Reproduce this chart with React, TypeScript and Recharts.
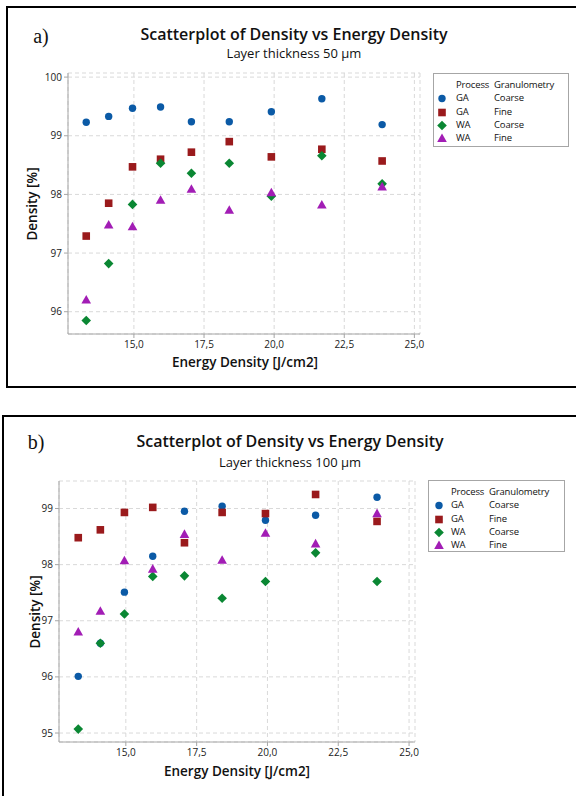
import React from "react";
import { ScatterChart, Scatter, XAxis, YAxis, CartesianGrid } from "recharts";

// a) layer thickness 50 µm
const energyA = [13.3, 14.1, 14.95, 15.95, 17.05, 18.4, 19.9, 21.7, 23.85];
const gaCoarseA = [99.23, 99.33, 99.47, 99.49, 99.24, 99.24, 99.41, 99.63, 99.19];
const gaFineA = [97.29, 97.85, 98.47, 98.6, 98.72, 98.9, 98.64, 98.77, 98.57];
const waCoarseA = [95.85, 96.82, 97.83, 98.53, 98.36, 98.53, 97.97, 98.66, 98.18];
const waFineA = [96.2, 97.48, 97.45, 97.9, 98.09, 97.73, 98.03, 97.82, 98.13];

// b) layer thickness 100 µm
const energyB = [13.32, 14.1, 14.95, 15.95, 17.07, 18.4, 19.93, 21.7, 23.87];
const gaCoarseB = [96.01, 96.6, 97.51, 98.15, 98.95, 99.04, 98.79, 98.88, 99.2];
const gaFineB = [98.48, 98.62, 98.93, 99.02, 98.39, 98.93, 98.91, 99.25, 98.77];
const waCoarseB = [95.07, 96.6, 97.12, 97.79, 97.8, 97.4, 97.7, 98.21, 97.7];
const waFineB = [96.8, 97.17, 98.07, 97.92, 98.54, 98.08, 98.56, 98.37, 98.91];

const xTicks = [15, 17.5, 20, 22.5, 25];
const yTicksA = [96, 97, 98, 99, 100];
const yTicksB = [95, 96, 97, 98, 99];

const processes = ["GA", "GA", "WA", "WA"];
const granulometry = ["Coarse", "Fine", "Coarse", "Fine"];
const colors = ["#0b5aa6", "#9a1a1c", "#0a8733", "#a21db5"];
const kinds = ["circle", "square", "diamond", "triangle"];

const FONT = "'Open Sans', 'Noto Sans', sans-serif";
const FRAME = "#a6a6a6";
const GRID = "#d9d9d9";

function Marker(props: any) {
  const { cx, cy, kind, color } = props;
  if (cx == null || cy == null) return null;
  if (kind === "circle") return <circle cx={cx} cy={cy} r={3.7} fill={color} />;
  if (kind === "square")
    return <rect x={cx - 3.8} y={cy - 3.8} width={7.6} height={7.6} fill={color} />;
  if (kind === "diamond")
    return (
      <polygon
        points={`${cx},${cy - 4.8} ${cx + 4.8},${cy} ${cx},${cy + 4.8} ${cx - 4.8},${cy}`}
        fill={color}
      />
    );
  return (
    <polygon
      points={`${cx},${cy - 5} ${cx + 4.8},${cy + 3.6} ${cx - 4.8},${cy + 3.6}`}
      fill={color}
    />
  );
}

function Text(props: any) {
  const { x, y, size = 12, weight = 400, family = FONT, rotate = 0, children } = props;
  return (
    <div
      style={{
        position: "absolute",
        left: x,
        top: y,
        transform: `translate(-50%, -50%) rotate(${rotate}deg)`,
        fontSize: size,
        fontWeight: weight,
        fontFamily: family,
        whiteSpace: "nowrap",
        lineHeight: 1,
        color: "#111",
      }}
    >
      {children}
    </div>
  );
}

function Legend(props: any) {
  const { left, top, width, height, rows, symX, col1, col2 } = props;
  const cell = (x: number, y: number, txt: string) => (
    <div
      style={{
        position: "absolute",
        left: x - left,
        top: y - top - 6,
        fontSize: 9.5,
        letterSpacing: -0.15,
        lineHeight: "12px",
        whiteSpace: "nowrap",
        color: "#111",
      }}
    >
      {txt}
    </div>
  );
  return (
    <div
      style={{
        position: "absolute",
        left,
        top,
        width,
        height,
        border: `1px solid ${FRAME}`,
        boxSizing: "border-box",
        fontFamily: FONT,
      }}
    >
      {cell(col1, rows[0], "Process")}
      {cell(col2, rows[0], "Granulometry")}
      {processes.map((p, i) => (
        <React.Fragment key={i}>
          <svg
            style={{ position: "absolute", left: symX - left - 6, top: rows[i + 1] - top - 6 }}
            width={12}
            height={12}
          >
            <Marker cx={6} cy={6.5} kind={kinds[i]} color={colors[i]} />
          </svg>
          {cell(col1, rows[i + 1], p)}
          {cell(col2, rows[i + 1], granulometry[i])}
        </React.Fragment>
      ))}
    </div>
  );
}

function Panel(props: any) {
  const { top, width, height, margin, energy, series, xDomain, yDomain, yTicks } = props;
  const tickStyle = { fill: "#222", fontSize: 10, fontFamily: FONT };
  return (
    <div style={{ position: "absolute", left: 0, top }}>
      <ScatterChart width={width} height={height} margin={margin}>
        <CartesianGrid stroke={GRID} strokeDasharray="4 3" />
        <XAxis
          type="number"
          dataKey="x"
          domain={xDomain}
          ticks={xTicks}
          allowDataOverflow
          tickFormatter={(v: number) => v.toFixed(1).replace(".", ",")}
          height={20}
          tickSize={4}
          tickMargin={3}
          axisLine={{ stroke: FRAME }}
          tickLine={{ stroke: FRAME }}
          tick={tickStyle}
        />
        <XAxis
          xAxisId="top"
          orientation="top"
          type="number"
          domain={xDomain}
          allowDataOverflow
          height={0}
          tick={false}
          tickLine={false}
          axisLine={{ stroke: FRAME }}
        />
        <YAxis
          type="number"
          dataKey="y"
          domain={yDomain}
          ticks={yTicks}
          allowDataOverflow
          width={40}
          tickSize={4}
          tickMargin={2}
          axisLine={{ stroke: FRAME }}
          tickLine={{ stroke: FRAME }}
          tick={tickStyle}
        />
        <YAxis
          yAxisId="right"
          orientation="right"
          type="number"
          domain={yDomain}
          allowDataOverflow
          width={0}
          tick={false}
          tickLine={false}
          axisLine={{ stroke: FRAME }}
        />
        {series.map((vals: number[], i: number) => (
          <Scatter
            key={i}
            name={`${processes[i]} ${granulometry[i]}`}
            data={energy.map((x: number, j: number) => ({ x, y: vals[j] }))}
            isAnimationActive={false}
            shape={(p: any) => <Marker cx={p.cx} cy={p.cy} kind={kinds[i]} color={colors[i]} />}
          />
        ))}
      </ScatterChart>
    </div>
  );
}

export default function App() {
  return (
    <div
      style={{
        position: "absolute",
        left: 0,
        top: 0,
        width: 576,
        height: 796,
        overflow: "hidden",
        background: "#fff",
      }}
    >
      <div
        style={{
          position: "absolute",
          left: 6,
          top: 6,
          width: 640,
          height: 378,
          border: "2px solid #000",
        }}
      />
      <div
        style={{
          position: "absolute",
          left: 2,
          top: 415,
          width: 640,
          height: 420,
          border: "2px solid #000",
        }}
      />

      <Panel
        top={0}
        width={576}
        height={400}
        margin={{ top: 73, right: 156, bottom: 46, left: 28 }}
        energy={energyA}
        series={[gaCoarseA, gaFineA, waCoarseA, waFineA]}
        xDomain={[12.65, 25.2]}
        yDomain={[95.62, 100.07]}
        yTicks={yTicksA}
      />
      <Panel
        top={410}
        width={576}
        height={386}
        margin={{ top: 71, right: 161, bottom: 34, left: 19 }}
        energy={energyB}
        series={[gaCoarseB, gaFineB, waCoarseB, waFineB]}
        xDomain={[12.64, 25.21]}
        yDomain={[94.84, 99.49]}
        yTicks={yTicksB}
      />

      <Text x={41} y={36} size={20} family="'Liberation Serif', serif">a)</Text>
      <Text x={294} y={34} size={16} weight={600}>Scatterplot of Density vs Energy Density</Text>
      <Text x={294} y={53} size={13}>Layer thickness 50 µm</Text>
      <Text x={33} y={204} size={13.5} weight={600} rotate={-90}>Density [%]</Text>
      <Text x={245} y={363} size={13.5} weight={600}>Energy Density [J/cm2]</Text>
      <Legend
        left={433}
        top={73}
        width={136}
        height={74}
        rows={[84, 96.5, 110.5, 123.5, 137]}
        symX={441}
        col1={455}
        col2={493}
      />

      <Text x={36} y={442} size={20} family="'Liberation Serif', serif">b)</Text>
      <Text x={290} y={441} size={16} weight={600}>Scatterplot of Density vs Energy Density</Text>
      <Text x={290} y={462} size={13}>Layer thickness 100 µm</Text>
      <Text x={36} y={612} size={13.5} weight={600} rotate={-90}>Density [%]</Text>
      <Text x={237} y={772} size={13.5} weight={600}>Energy Density [J/cm2]</Text>
      <Legend
        left={428}
        top={480}
        width={137}
        height={72}
        rows={[490.5, 504, 517.5, 531, 543.5]}
        symX={438}
        col1={450}
        col2={488}
      />
    </div>
  );
}
